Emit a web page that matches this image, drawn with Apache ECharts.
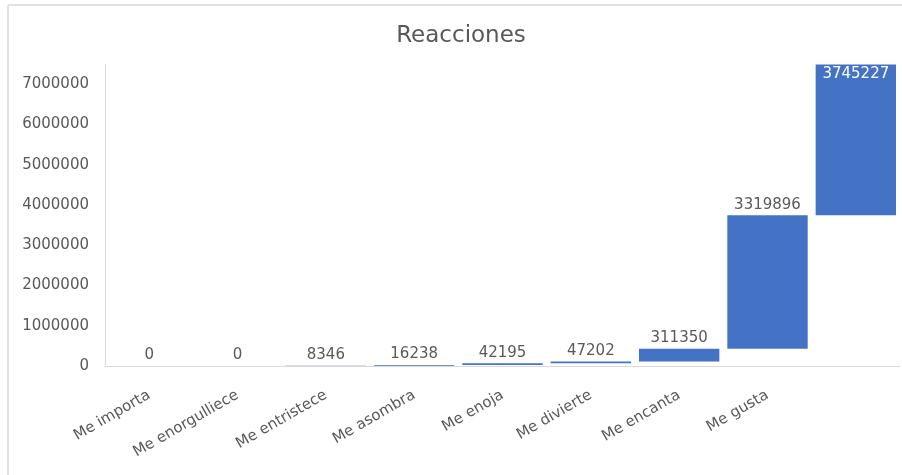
<!DOCTYPE html>
<html>
<head>
<meta charset="utf-8">
<script src="https://cdn.jsdelivr.net/npm/echarts@6/dist/echarts.min.js"></script>
<style>
  html, body { margin: 0; padding: 0; background: #fff; }
  #chart { width: 902px; height: 475px; }
</style>
</head>
<body>
<div id="chart"></div>
<script>
// Reaction categories (the last step has no label)
var categories = ['Me importa', 'Me enorgulliece', 'Me entristece', 'Me asombra', 'Me enoja', 'Me divierte', 'Me encanta', 'Me gusta', ''];
// Increment of each waterfall step
var values = [0, 0, 8346, 16238, 42195, 47202, 311350, 3319896, 3745227];
// Y axis settings
var yMax = 7500000;
var yInterval = 1000000;

// Invisible base under each step = running total before it
var bases = [];
var running = 0;
for (var i = 0; i < values.length; i++) {
  bases.push(running);
  running += values[i];
}

var labelColor = '#595959';
var font = '"DejaVu Sans", "Liberation Sans", sans-serif';

var chart = echarts.init(document.getElementById('chart'));
chart.setOption({
  animation: false,
  title: {
    text: 'Reacciones',
    left: 456,
    textAlign: 'center',
    top: 20,
    textStyle: { color: labelColor, fontFamily: font, fontSize: 23, fontWeight: 'normal' }
  },
  graphic: [
    { type: 'line', shape: { x1: 8, y1: 5, x2: 902, y2: 5 }, style: { stroke: '#e2e2e2', lineWidth: 2 } },
    { type: 'line', shape: { x1: 8, y1: 5, x2: 8, y2: 475 }, style: { stroke: '#e2e2e2', lineWidth: 2 } }
  ],
  grid: { left: 105, right: 2, top: 64, bottom: 109, containLabel: false },
  xAxis: {
    type: 'category',
    data: categories,
    axisLine: { lineStyle: { color: '#d9d9d9', width: 1 } },
    axisTick: { show: false },
    axisLabel: {
      rotate: 30,
      margin: 28,
      color: labelColor,
      fontFamily: font,
      fontSize: 15,
      interval: 0
    }
  },
  yAxis: {
    type: 'value',
    min: 0,
    max: yMax,
    interval: yInterval,
    splitLine: { show: false },
    axisLine: { show: true, lineStyle: { color: '#d9d9d9', width: 1 } },
    axisTick: { show: false },
    axisLabel: {
      showMaxLabel: false,
      margin: 16,
      color: labelColor,
      fontFamily: font,
      fontSize: 15,
      formatter: function (v) { return String(v); }
    }
  },
  series: [
    {
      type: 'bar',
      stack: 'waterfall',
      data: bases,
      itemStyle: { color: 'transparent' },
      silent: true,
      barCategoryGap: '9%'
    },
    {
      type: 'bar',
      stack: 'waterfall',
      barCategoryGap: '9%',
      data: values.map(function (v, idx) {
        var item = { value: v };
        if (idx === values.length - 1) {
          item.label = { position: 'insideTop', color: '#ffffff', distance: 2 };
        }
        return item;
      }),
      itemStyle: { color: '#4472C4' },
      label: {
        show: true,
        position: 'top',
        distance: 3,
        color: labelColor,
        fontFamily: font,
        fontSize: 15
      }
    }
  ]
});
</script>
</body>
</html>
